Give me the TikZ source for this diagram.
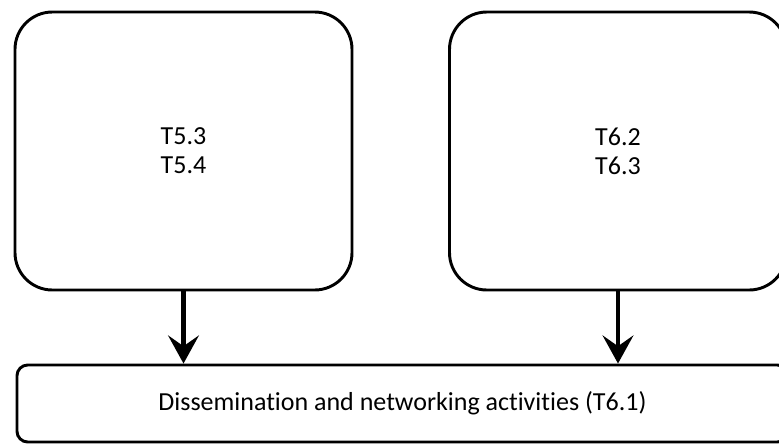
\documentclass[tikz,border=0pt]{standalone}
\usepackage{fontspec}
\setmainfont{Carlito}[Ligatures=NoCommon]
\usetikzlibrary{arrows.meta}

\begin{document}
\begin{tikzpicture}[x=0.75pt,y=-0.75pt,
  taskbox/.style={draw,line width=2.2pt,rounded corners=28pt,minimum width=252.75pt,minimum height=208.5pt,align=center,font=\fontsize{19.5pt}{21.75pt}\selectfont},
  dissbox/.style={draw,line width=2.2pt,rounded corners=8pt,minimum width=578.25pt,minimum height=57.75pt,font=\fontsize{19.5pt}{21.75pt}\selectfont},
  feed/.style={line width=3.4pt,-{Stealth[length=21pt,width=23pt,inset=8pt]}}]
  \useasboundingbox (0,0) rectangle (779,444);

  %task boxes
  \node[taskbox] (t5) at (183.5,151) {T5.3\\T5.4};
  \node[taskbox] (t6) at (618,151) {T6.2\\T6.3};

  %dissemination
  \node[dissbox] (diss) at (402.5,403.5) {Dissemination and networking activities (T6.1)};

  %arrows
  \draw[feed] (t5.south) -- (t5.south |- diss.north);
  \draw[feed] (t6.south) -- (t6.south |- diss.north);
\end{tikzpicture}
\end{document}
